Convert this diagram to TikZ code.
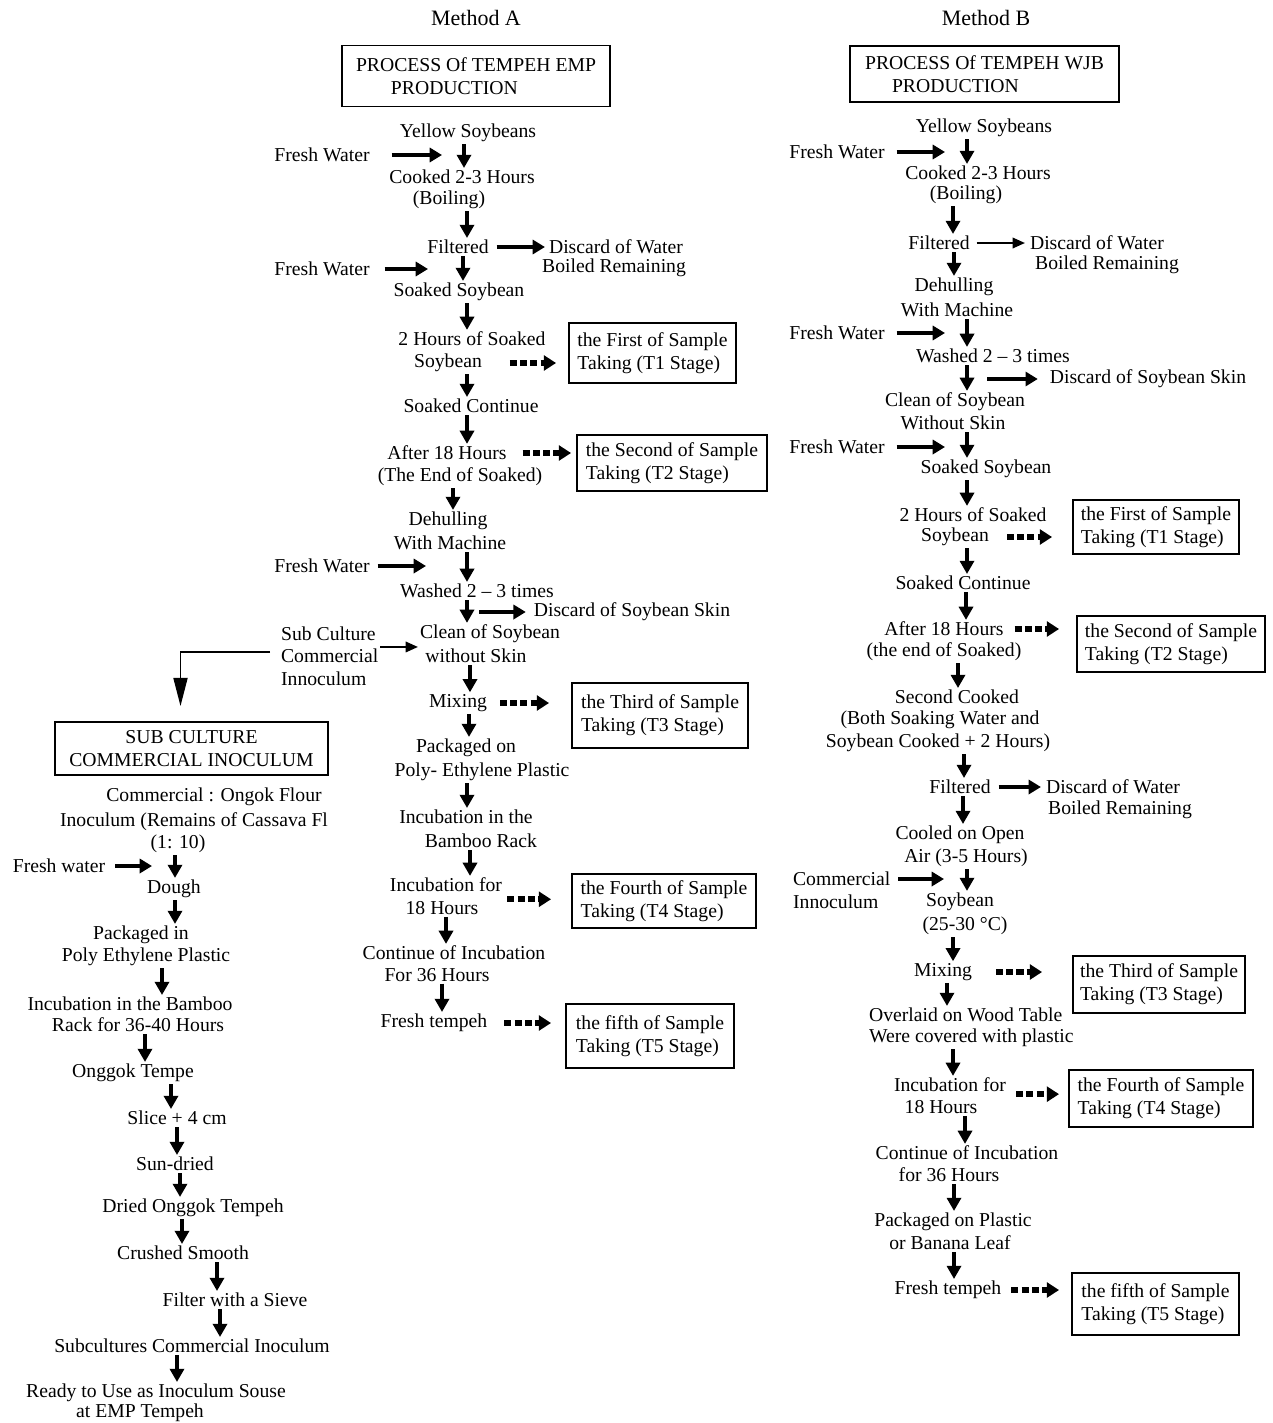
\documentclass[tikz,border=0pt]{standalone}
\usepackage{fontspec}
\setmainfont{Liberation Serif}
\usetikzlibrary{arrows.meta}
\newlength{\pxu}\setlength{\pxu}{0.02cm}
\newcommand{\stepfont}{\fontsize{11.2}{13}\selectfont}
\begin{document}
\begin{tikzpicture}
[x=0.02cm, y=-0.02cm, font=\stepfont,
stept/.style={inner sep=1pt},
headt/.style={inner sep=1pt, font=\fontsize{12.5}{14}\selectfont},
procbox/.style={draw, line width=1.1pt, align=left, inner sep=0pt},
sample/.style={draw, line width=1.1pt, align=left, inner sep=0pt},
arr/.style={line width=1.8pt, -{Triangle[width=8pt,length=7pt]}},
darr/.style={line width=1.8pt, -{Triangle[width=8pt,length=7.5pt]}},
thinarr/.style={line width=1pt, -{Triangle[width=6pt,length=7pt]}},
dasharr/.style={line width=3.2pt, dash pattern=on 4pt off 1.8pt, -{Triangle[width=8.5pt,length=7pt]}},
elbow/.style={line width=0.9pt, -{Triangle[width=8pt,length=16pt]}}]

\useasboundingbox (0,0) rectangle (1272,1423);

% Method A
\node[headt] (methA) at (476,18) {Method A};
\node[procbox, minimum width=5.36cm, minimum height=1.22cm] (procA) at (476,76) {PROCESS Of TEMPEH EMP\\\hspace*{0.7cm}PRODUCTION};

\node[stept] (yellowA) at (468,133) {Yellow Soybeans};
\node[stept] (fwA1) at (322,155) {Fresh Water};
\node[stept] (cookA1) at (462,177) {Cooked 2-3 Hours};
\node[stept] (cookA2) at (449,200) {(Boiling)};
\node[stept] (filtA) at (458,247) {Filtered};
\node[stept] (discA1) at (616,247) {Discard of Water};
\node[stept] (discA2) at (614,268) {Boiled Remaining};
\node[stept] (fwA2) at (322,269) {Fresh Water};
\node[stept] (soakA) at (459,292) {Soaked Soybean};
\node[stept] (twoA1) at (472,339) {2 Hours of Soaked};
\node[stept] (twoA2) at (448,363) {Soybean};
\node[sample, minimum width=3.34cm, minimum height=1.2cm] (t1A) at (652.5,353) {the First of Sample\\Taking (T1 Stage)};
\node[stept] (contA) at (471,406) {Soaked Continue};
\node[stept] (aftA1) at (447,453) {After 18 Hours};
\node[stept] (aftA2) at (460,477) {(The End of Soaked)};
\node[sample, minimum width=3.8cm, minimum height=1.12cm] (t2A) at (672,463) {the Second of Sample\\Taking (T2 Stage)};
\node[stept] (dehA1) at (448,521) {Dehulling};
\node[stept] (dehA2) at (450,543) {With Machine};
\node[stept] (fwA3) at (322,566) {Fresh Water};
\node[stept] (washA) at (477,591) {Washed 2 – 3 times};
\node[stept] (skinA) at (632,612) {Discard of Soybean Skin};
\node[stept, anchor=west] (subA1) at (279,634) {Sub Culture};
\node[stept, anchor=west] (subA2) at (279,656) {Commercial};
\node[stept, anchor=west] (subA3) at (279,679) {Innoculum};
\node[stept] (cleanA1) at (490,634) {Clean of Soybean};
\node[stept] (cleanA2) at (476,656) {without Skin};
\node[stept] (mixA) at (458,703) {Mixing};
\node[sample, minimum width=3.52cm, minimum height=1.3cm] (t3A) at (660,715.5) {the Third of Sample\\Taking (T3 Stage)};
\node[stept] (packA1) at (466,748) {Packaged on};
\node[stept] (packA2) at (482,772) {Poly- Ethylene Plastic};
\node[stept] (incA1) at (466,817) {Incubation in the};
\node[stept] (incA2) at (481,841) {Bamboo Rack};
\node[stept] (inc18A1) at (446,885) {Incubation for};
\node[stept] (inc18A2) at (442,908) {18 Hours};
\node[sample, minimum width=3.68cm, minimum height=1.08cm] (t4A) at (664,901) {the Fourth of Sample\\Taking (T4 Stage)};
\node[stept] (con36A1) at (454,953) {Continue of Incubation};
\node[stept] (con36A2) at (437,975) {For 36 Hours};
\node[stept] (freshA) at (434,1023) {Fresh tempeh};
\node[sample, minimum width=3.36cm, minimum height=1.28cm] (t5A) at (650,1036) {the fifth of Sample\\Taking (T5 Stage)};

\draw[arr, shorten <=20\pxu] (fwA1.east) -- (fwA1.east -| 442,0);
\draw[darr] (yellowA.south -| 464,0) -- (cookA1.north -| 464,0);
\draw[darr] (cookA2.south -| 467,0) -- (filtA.north -| 467,0);
\draw[arr, shorten <=6\pxu, shorten >=2\pxu] (filtA) -- (discA1);
\draw[arr, shorten <=13\pxu] (fwA2.east) -- (fwA2.east -| 428,0);
\draw[darr] (filtA.south -| 463,0) -- (soakA.north -| 463,0);
\draw[darr] (soakA.south -| 467,0) -- (twoA1.north -| 467,0);
\draw[dasharr, shorten <=26\pxu, shorten >=12\pxu] (twoA2.east) -- (twoA2.east -| t1A.west);
\draw[darr] (twoA2.south -| 467,0) -- (contA.north -| 467,0);
\draw[darr] (contA.south -| 467,0) -- (aftA1.north -| 467,0);
\draw[dasharr, shorten <=14\pxu, shorten >=5\pxu] (aftA1.east) -- (aftA1.east -| t2A.west);
\draw[darr] (aftA2.south -| 453,0) -- (dehA1.north -| 453,0);
\draw[arr, shorten <=6\pxu] (fwA3.east) -- (fwA3.east -| 426,0);
\draw[darr] (dehA2.south -| 467,0) -- (washA.north -| 467,0);
\draw[darr] (washA.south -| 467,0) -- (cleanA1.north -| 467,0);
\draw[arr, shorten >=6\pxu] (skinA.west -| 479,0) -- (skinA.west);
\draw[thinarr] (subA2.north east) -- (subA2.north east -| cleanA1.west);
\draw[darr] (cleanA2.south -| 470,0) -- (mixA.north -| 470,0);
\draw[dasharr, shorten <=11\pxu, shorten >=22\pxu] (mixA.east) -- (mixA.east -| t3A.west);
\draw[darr] (mixA.south -| 469,0) -- (packA1.north -| 469,0);
\draw[darr] (packA2.south -| 467,0) -- (incA1.north -| 467,0);
\draw[darr] (incA2.south -| 470,0) -- (inc18A1.north -| 470,0);
\draw[dasharr, shorten <=27\pxu, shorten >=20\pxu] (inc18A2.north east) -- (inc18A2.north east -| t4A.west);
\draw[darr] (inc18A2.south -| 446,0) -- (con36A1.north -| 446,0);
\draw[darr] (con36A2.south -| 442,0) -- (freshA.north -| 442,0);
\draw[dasharr, shorten <=15\pxu, shorten >=14\pxu] (freshA.east) -- (freshA.east -| t5A.west);

% sub culture of the inoculum
\node[procbox, align=center, minimum width=5.46cm, minimum height=1.06cm] (subbox) at (191.5,748.5) {SUB CULTURE\\COMMERCIAL INOCULUM};
\node[stept] (comL1) at (214,797) {Commercial : Ongok Flour};
\node[stept] (comL2) at (194,822) {Inoculum (Remains of Cassava Fl};
\node[stept] (comL3) at (178,844) {(1: 10)};
\node[stept] (fwL) at (59,866) {Fresh water};
\node[stept] (doughL) at (174,889) {Dough};
\node[stept] (packL1) at (141,935) {Packaged in};
\node[stept] (packL2) at (146,957) {Poly Ethylene Plastic};
\node[stept] (incL1) at (130,1004) {Incubation in the Bamboo};
\node[stept] (incL2) at (138,1025) {Rack for 36-40 Hours};
\node[stept] (ongL) at (133,1073) {Onggok Tempe};
\node[stept] (sliceL) at (177,1118) {Slice + 4 cm};
\node[stept] (sunL) at (175,1164) {Sun-dried};
\node[stept] (driedL) at (193,1208) {Dried Onggok Tempeh};
\node[stept] (crushL) at (183,1253) {Crushed Smooth};
\node[stept] (sieveL) at (235,1300) {Filter with a Sieve};
\node[stept] (subcL) at (192,1346) {Subcultures Commercial Inoculum};
\node[stept] (readyL1) at (156,1393) {Ready to Use as Inoculum Souse};
\node[stept] (readyL2) at (140,1413) {at EMP Tempeh};

\draw[elbow, shorten <=9\pxu, shorten >=15\pxu] ([yshift=4\pxu]subA2.west) -| ([xshift=-11\pxu]subbox.north);
\draw[arr, shorten <=8\pxu] (fwL.east) -- (fwL.east -| 152,0);
\draw[darr] (comL3.south -| 175,0) -- (doughL.north -| 175,0);
\draw[darr] (doughL.south -| 175,0) -- (packL1.north -| 175,0);
\draw[darr] (packL2.south -| 162,0) -- (incL1.north -| 162,0);
\draw[darr] (incL2.south -| 145,0) -- (ongL.north -| 145,0);
\draw[darr] (ongL.south -| 171,0) -- (sliceL.north -| 171,0);
\draw[darr] (sliceL.south -| 177,0) -- (sunL.north -| 177,0);
\draw[darr] (sunL.south -| 180,0) -- (driedL.north -| 180,0);
\draw[darr] (driedL.south -| 182,0) -- (crushL.north -| 182,0);
\draw[darr] (crushL.south -| 217,0) -- (sieveL.north -| 217,0);
\draw[darr] (sieveL.south -| 220,0) -- (subcL.north -| 220,0);
\draw[darr] (subcL.south -| 177,0) -- (readyL1.north -| 177,0);

% Method B
\node[headt] (methB) at (986,18) {Method B};
\node[procbox, minimum width=5.38cm, minimum height=1.12cm] (procB) at (984.5,74) {PROCESS Of TEMPEH WJB\\\hspace*{0.54cm}PRODUCTION};

\node[stept] (yellowB) at (984,128) {Yellow Soybeans};
\node[stept] (fwB1) at (837,152) {Fresh Water};
\node[stept] (cookB1) at (978,173) {Cooked 2-3 Hours};
\node[stept] (cookB2) at (966,195) {(Boiling)};
\node[stept] (filtB1) at (939,243) {Filtered};
\node[stept] (discB1) at (1097,243) {Discard of Water};
\node[stept] (discB2) at (1107,265) {Boiled Remaining};
\node[stept] (dehB1) at (954,287) {Dehulling};
\node[stept] (dehB2) at (957,310) {With Machine};
\node[stept] (fwB2) at (837,333) {Fresh Water};
\node[stept] (washB) at (993,356) {Washed 2 – 3 times};
\node[stept] (skinB) at (1148,379) {Discard of Soybean Skin};
\node[stept] (cleanB1) at (955,402) {Clean of Soybean};
\node[stept] (cleanB2) at (953,423) {Without Skin};
\node[stept] (fwB3) at (837,447) {Fresh Water};
\node[stept] (soakB) at (986,469) {Soaked Soybean};
\node[stept] (twoB1) at (973,515) {2 Hours of Soaked};
\node[stept] (twoB2) at (955,537) {Soybean};
\node[sample, minimum width=3.32cm, minimum height=1.08cm] (t1B) at (1156,527) {the First of Sample\\Taking (T1 Stage)};
\node[stept] (contB) at (963,583) {Soaked Continue};
\node[stept] (aftB1) at (944,629) {After 18 Hours};
\node[stept] (aftB2) at (944,652) {(the end of Soaked)};
\node[sample, minimum width=3.76cm, minimum height=1.12cm] (t2B) at (1171,644) {the Second of Sample\\Taking (T2 Stage)};
\node[stept] (secB1) at (957,697) {Second Cooked};
\node[stept] (secB2) at (940,720) {(Both Soaking Water and};
\node[stept] (secB3) at (938,743) {Soybean Cooked + 2 Hours)};
\node[stept] (filtB2) at (960,787) {Filtered};
\node[stept] (discB3) at (1113,787) {Discard of Water};
\node[stept] (discB4) at (1120,810) {Boiled Remaining};
\node[stept] (coolB1) at (960,835) {Cooled on Open};
\node[stept] (coolB2) at (966,858) {Air (3-5 Hours)};
\node[stept, anchor=west] (comB1) at (791,879) {Commercial};
\node[stept, anchor=west] (comB2) at (791,902) {Innoculum};
\node[stept] (soyB1) at (960,902) {Soybean};
\node[stept] (soyB2) at (965,926) {(25-30 °C)};
\node[stept] (mixB) at (943,972) {Mixing};
\node[sample, minimum width=3.44cm, minimum height=1.14cm] (t3B) at (1159,984.5) {the Third of Sample\\Taking (T3 Stage)};
\node[stept, anchor=west] (overB1) at (867,1015) {Overlaid on Wood Table};
\node[stept, anchor=west] (overB2) at (867,1038) {Were covered with plastic};
\node[stept] (inc18B1) at (950,1085) {Incubation for};
\node[stept] (inc18B2) at (941,1107) {18 Hours};
\node[sample, minimum width=3.68cm, minimum height=1.14cm] (t4B) at (1161,1098.5) {the Fourth of Sample\\Taking (T4 Stage)};
\node[stept] (con36B1) at (967,1153) {Continue of Incubation};
\node[stept] (con36B2) at (949,1175) {for 36 Hours};
\node[stept] (packB1) at (953,1222) {Packaged on Plastic};
\node[stept] (packB2) at (950,1243) {or Banana Leaf};
\node[stept] (freshB) at (948,1290) {Fresh tempeh};
\node[sample, minimum width=3.34cm, minimum height=1.24cm] (t5B) at (1155.5,1304) {the fifth of Sample\\Taking (T5 Stage)};

\draw[arr, shorten <=10\pxu] (fwB1.east) -- (fwB1.east -| 945,0);
\draw[darr] (yellowB.south -| 967,0) -- (cookB1.north -| 967,0);
\draw[darr] (cookB2.south -| 953,0) -- (filtB1.north -| 953,0);
\draw[thinarr, shorten <=5\pxu, shorten >=3\pxu] (filtB1) -- (discB1);
\draw[darr] (filtB1.south -| 954,0) -- (dehB1.north -| 954,0);
\draw[arr, shorten <=10\pxu] (fwB2.east) -- (fwB2.east -| 945,0);
\draw[darr] (dehB2.south -| 967,0) -- (washB.north -| 967,0);
\draw[darr] (washB.south -| 967,0) -- (cleanB1.north -| 967,0);
\draw[arr, shorten >=10\pxu] (skinB.west -| 987,0) -- (skinB.west);
\draw[arr, shorten <=10\pxu] (fwB3.east) -- (fwB3.east -| 945,0);
\draw[darr] (cleanB2.south -| 967,0) -- (soakB.north -| 967,0);
\draw[darr] (soakB.south -| 967,0) -- (twoB1.north -| 967,0);
\draw[dasharr, shorten <=16\pxu, shorten >=20\pxu] (twoB2.east) -- (twoB2.east -| t1B.west);
\draw[darr] (twoB2.south -| 967,0) -- (contB.north -| 967,0);
\draw[darr] (contB.south -| 966,0) -- (aftB1.north -| 966,0);
\draw[dasharr, shorten <=9\pxu, shorten >=17\pxu] (aftB1.east) -- (aftB1.east -| t2B.west);
\draw[darr] (aftB2.south -| 958,0) -- (secB1.north -| 958,0);
\draw[darr] (secB3.south -| 964,0) -- (filtB2.north -| 964,0);
\draw[arr, shorten <=6\pxu, shorten >=3\pxu] (filtB2) -- (discB3);
\draw[darr] (filtB2.south -| 963,0) -- (coolB1.north -| 963,0);
\draw[arr, shorten <=6\pxu] (comB1.east) -- (comB1.east -| 944,0);
\draw[darr] (coolB2.south -| 967,0) -- (soyB1.north -| 967,0);
\draw[darr] (soyB2.south -| 953,0) -- (mixB.north -| 953,0);
\draw[dasharr, shorten <=22\pxu, shorten >=30\pxu] (mixB.east) -- (mixB.east -| t3B.west);
\draw[darr] (mixB.south -| 947,0) -- (overB1.north -| 947,0);
\draw[darr] (overB2.south -| 953,0) -- (inc18B1.north -| 953,0);
\draw[dasharr, shorten <=8\pxu, shorten >=9\pxu] (inc18B1.south east) -- (inc18B1.south east -| t4B.west);
\draw[darr] (inc18B2.south -| 965,0) -- (con36B1.north -| 965,0);
\draw[darr] (con36B2.south -| 954,0) -- (packB1.north -| 954,0);
\draw[darr] (packB2.south -| 954,0) -- (freshB.north -| 954,0);
\draw[dasharr, shorten <=8\pxu, shorten >=12\pxu] (freshB.east) -- (freshB.east -| t5B.west);
\end{tikzpicture}
\end{document}
